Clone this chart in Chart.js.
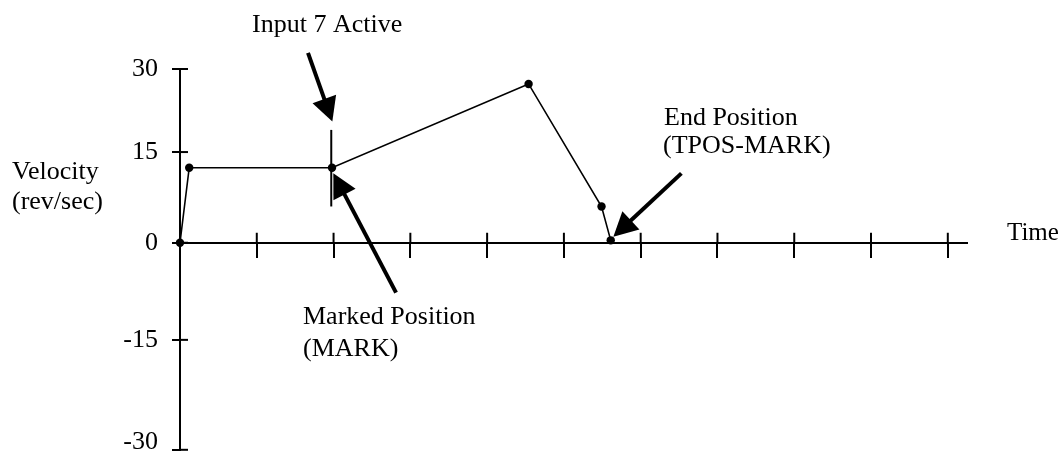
<!DOCTYPE html>
<html>
<head>
<meta charset="utf-8">
<script src="https://cdn.jsdelivr.net/npm/chart.js@4/dist/chart.umd.min.js"></script>
<style>
  html, body { margin: 0; padding: 0; background: #ffffff; }
  #wrap { width: 1060px; height: 454px; position: relative; }
</style>
</head>
<body>
<div id="wrap"><canvas id="c" width="1060" height="454"></canvas></div>
<script>
// ---------------- data ----------------
const timeValues     = [0, 0.12, 1.98, 4.54, 5.49, 5.61];
const velocityValues = [0, 12.4, 12.4, 27.3, 6.0, 0.4];
const yTickValues    = [-30, -15, 0, 15, 30];
const xTickValues    = [0, 1, 2, 3, 4, 5, 6, 7, 8, 9, 10];
const xMax = 10.25;

// annotation anchors in data units (time, velocity)
const markerLine   = { x: 1.97, y1: 19.0, y2: 6.0 };
const arrowInput   = { from: [1.667, 32.9], to: [1.984, 20.5] };
const arrowMark    = { from: [2.814, -7.7], to: [1.997, 11.5] };
const arrowEnd     = { from: [6.53, 11.47], to: [5.644, 0.99] };

// texts (canvas positions, left / baseline)
const labelTexts = [
  { text: 'Input 7 Active',  x: 252, y: 32 },
  { text: 'Velocity',        x: 12,  y: 179 },
  { text: '(rev/sec)',       x: 12,  y: 209 },
  { text: 'Marked Position', x: 303, y: 324 },
  { text: '(MARK)',          x: 303, y: 356 },
  { text: 'End Position',    x: 664, y: 125 },
  { text: '(TPOS-MARK)',     x: 663, y: 153 },
  { text: 'Time',            x: 1007, y: 240, size: 25 }
];

// ---------------- styles ----------------
const FONT = '"Liberation Serif", "Times New Roman", serif';
const FONT_SIZE = 26;
// the reference vertical axis is not evenly spaced: decimal position of each tick (0 = bottom, 1 = top)
const Y_WARP = { values: [-30, -15, 0, 15, 30], decimals: [0, 0.2887, 0.5437, 0.7819, 1] };

function warpDecimal(v) {
  const vs = Y_WARP.values, ds = Y_WARP.decimals;
  let i = 0;
  if (v <= vs[0]) i = 0;
  else if (v >= vs[vs.length - 1]) i = vs.length - 2;
  else { while (v > vs[i + 1]) i++; }
  const t = (v - vs[i]) / (vs[i + 1] - vs[i]);
  return ds[i] + t * (ds[i + 1] - ds[i]);
}
function unwarpDecimal(d) {
  const vs = Y_WARP.values, ds = Y_WARP.decimals;
  let i = 0;
  if (d <= ds[0]) i = 0;
  else if (d >= ds[ds.length - 1]) i = ds.length - 2;
  else { while (d > ds[i + 1]) i++; }
  const t = (d - ds[i]) / (ds[i + 1] - ds[i]);
  return vs[i] + t * (vs[i + 1] - vs[i]);
}

class WarpedScale extends Chart.LinearScale {
  getPixelForValue(value) {
    if (value === null || value === undefined || isNaN(value)) return NaN;
    return this.getPixelForDecimal(warpDecimal(value));
  }
  getValueForPixel(pixel) {
    return unwarpDecimal(this.getDecimalForPixel(pixel));
  }
}
WarpedScale.id = 'warped';
WarpedScale.defaults = { ticks: { callback: Chart.Ticks.formatters.numeric } };
Chart.register(WarpedScale);

function drawArrow(ctx, x0, y0, x1, y1) {
  const dx = x1 - x0, dy = y1 - y0;
  const len = Math.hypot(dx, dy);
  const ux = dx / len, uy = dy / len;
  const headLen = 24, halfW = 12.5;
  const bx = x1 - ux * headLen, by = y1 - uy * headLen;
  ctx.save();
  ctx.strokeStyle = '#000';
  ctx.fillStyle = '#000';
  ctx.lineWidth = 4;
  ctx.lineCap = 'butt';
  ctx.beginPath();
  ctx.moveTo(x0, y0);
  ctx.lineTo(bx + ux * 2, by + uy * 2);
  ctx.stroke();
  ctx.beginPath();
  ctx.moveTo(x1, y1);
  ctx.lineTo(bx - uy * halfW, by + ux * halfW);
  ctx.lineTo(bx + uy * halfW, by - ux * halfW);
  ctx.closePath();
  ctx.fill();
  ctx.restore();
}

const annotationPlugin = {
  id: 'annotations',
  afterDraw(chart) {
    const ctx = chart.ctx;
    const xs = chart.scales.x, ys = chart.scales.y;
    ctx.save();
    // inner halves of the crossing tick marks
    ctx.strokeStyle = '#000';
    ctx.lineWidth = 2;
    const axisY = ys.getPixelForValue(0);
    xs.ticks.forEach((t, i) => {
      const px = xs.getPixelForTick(i);
      ctx.beginPath(); ctx.moveTo(px, axisY); ctx.lineTo(px, axisY - 10); ctx.stroke();
    });
    ys.ticks.forEach((t, i) => {
      const py = ys.getPixelForTick(i);
      ctx.beginPath(); ctx.moveTo(xs.left, py); ctx.lineTo(xs.left + 8, py); ctx.stroke();
    });
    // marker line at the marked position
    ctx.lineWidth = 2;
    const mx = xs.getPixelForValue(markerLine.x);
    ctx.beginPath();
    ctx.moveTo(mx, ys.getPixelForValue(markerLine.y1));
    ctx.lineTo(mx, ys.getPixelForValue(markerLine.y2));
    ctx.stroke();
    // arrows
    [arrowInput, arrowMark, arrowEnd].forEach(a => {
      drawArrow(ctx,
        xs.getPixelForValue(a.from[0]), ys.getPixelForValue(a.from[1]),
        xs.getPixelForValue(a.to[0]),   ys.getPixelForValue(a.to[1]));
    });
    // texts
    ctx.fillStyle = '#000';
    ctx.textAlign = 'left';
    ctx.textBaseline = 'alphabetic';
    labelTexts.forEach(l => {
      ctx.font = (l.size || FONT_SIZE) + 'px ' + FONT;
      ctx.fillText(l.text, l.x, l.y);
    });
    ctx.restore();
  }
};

new Chart(document.getElementById('c'), {
  type: 'line',
  data: {
    datasets: [{
      data: timeValues.map((t, i) => ({ x: t, y: velocityValues[i] })),
      borderColor: '#000',
      borderWidth: 1.6,
      tension: 0,
      pointRadius: 4.2,
      pointHoverRadius: 4.2,
      pointBackgroundColor: '#000',
      pointBorderColor: '#000',
      pointBorderWidth: 0,
      clip: false
    }]
  },
  options: {
    responsive: false,
    animation: false,
    devicePixelRatio: 1,
    layout: { padding: { left: 0, right: 93, top: 69, bottom: 3 } },
    plugins: { legend: { display: false }, tooltip: { enabled: false }, title: { display: false } },
    events: [],
    scales: {
      x: {
        type: 'linear',
        position: { y: 0 },
        min: 0,
        max: xMax,
        afterBuildTicks(scale) { scale.ticks = xTickValues.map(v => ({ value: v })); },
        ticks: { display: false, autoSkip: false, includeBounds: false },
        grid: { display: true, drawOnChartArea: false, drawTicks: true, tickLength: 14, color: '#000', lineWidth: 2 },
        border: { display: true, color: '#000', width: 2 },
        afterFit(scale) { scale.paddingLeft = 0; scale.paddingRight = 0; }
      },
      y: {
        type: 'warped',
        position: 'left',
        min: -30,
        max: 30,
        afterBuildTicks(scale) { scale.ticks = yTickValues.map(v => ({ value: v })); },
        ticks: {
          autoSkip: false,
          color: '#000',
          padding: 14,
          font: { family: FONT, size: FONT_SIZE, lineHeight: '16px' },
          // the lowest label sits a little above its tick in the reference
          callback: v => (v === yTickValues[0] ? [String(v), ''] : String(v))
        },
        grid: { display: true, drawOnChartArea: false, drawTicks: true, tickLength: 8, color: '#000', lineWidth: 2 },
        border: { display: true, color: '#000', width: 2 },
        afterFit(scale) { scale.width = 180; scale.paddingTop = 0; scale.paddingBottom = 0; }
      }
    }
  },
  plugins: [annotationPlugin]
});
</script>
</body>
</html>
